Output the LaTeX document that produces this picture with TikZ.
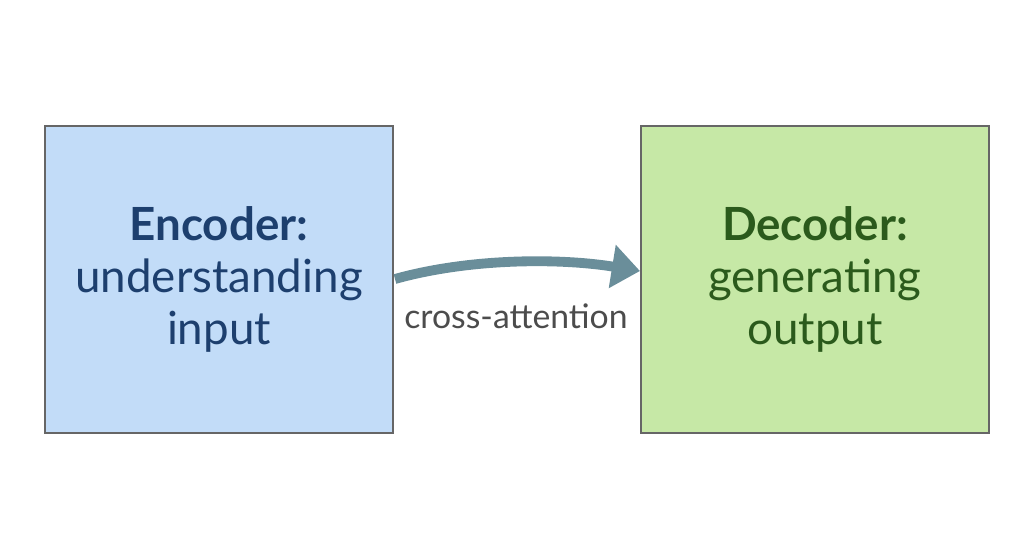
\documentclass[tikz,border=0pt]{standalone}
\usepackage{fontspec}
\setmainfont{Lato}
\usetikzlibrary{arrows.meta}
\definecolor{encfill}{HTML}{C2DCF8}
\definecolor{decfill}{HTML}{C6E8A6}
\definecolor{enctext}{HTML}{1D3F6E}
\definecolor{dectext}{HTML}{2B5A1C}
\definecolor{arrowcol}{HTML}{6A8E9A}
\tikzset{bloc/.style = {draw = gray!80!black, line width = 0.8pt, minimum width = 8.7cm,
                        minimum height = 7.675cm, inner sep = 0pt},
         titre/.style = {align = center, font = \fontsize{32.5}{37}\selectfont}
        }

\begin{document}
\begin{tikzpicture}[x=0.025cm, y=-0.025cm]
  \useasboundingbox (0, 0) rectangle (1024, 559);
  \node[bloc, fill = encfill] (enc) at (219, 279.5) {};
  \node[bloc, fill = decfill] (dec) at (815, 279.5) {};
  \node[titre, text = enctext] at (enc) {\textbf{Encoder:}\\understanding\\input};
  \node[titre, text = dectext] at (dec) {\textbf{Decoder:}\\generating\\output};
  \coordinate (depart) at (395, 279);
  \coordinate (arrivee) at (640, 271);
  \draw[arrowcol, line width = 7pt, -{Triangle[length=20pt, width=30pt]}]
      (depart) .. controls (470, 258) and (560, 258) .. (arrivee);
  \node[text = gray!60!black, font = \fontsize{24}{28}\selectfont] (label) at (516, 316) {cross-attention};
\end{tikzpicture}
\end{document}
